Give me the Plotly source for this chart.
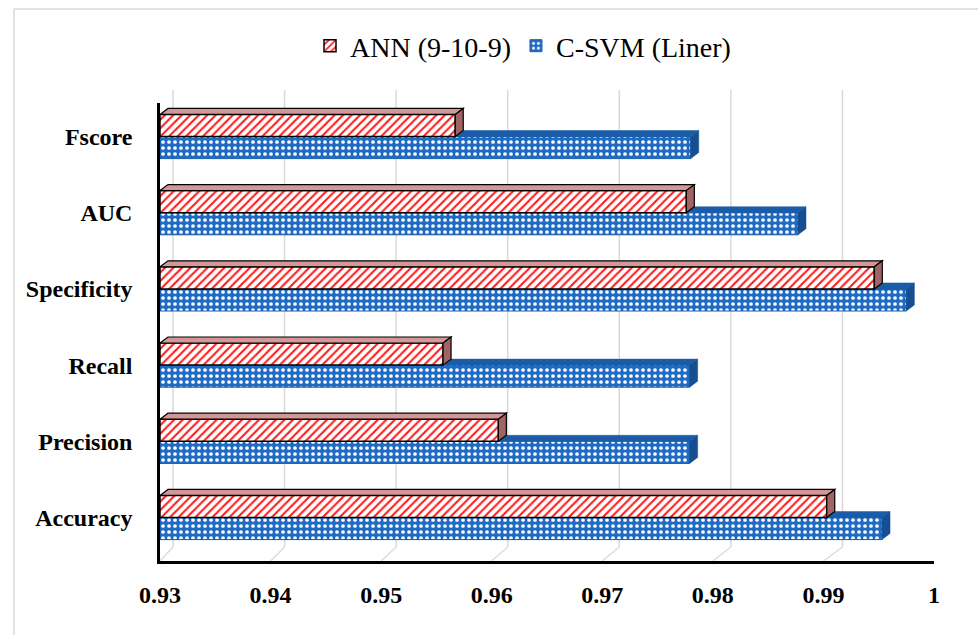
import plotly.graph_objects as go

categories = ["Accuracy", "Precision", "Recall", "Specificity", "AUC", "Fscore"]
ann_values = [0.9903, 0.9606, 0.9556, 0.9946, 0.9776, 0.9567]
svm_values = [0.9953, 0.9779, 0.9779, 0.9975, 0.9877, 0.9780]
x_ticks = [0.93, 0.94, 0.95, 0.96, 0.97, 0.98, 0.99, 1.0]
x_tick_labels = ["0.93", "0.94", "0.95", "0.96", "0.97", "0.98", "0.99", "1"]
series_names = ["ANN (9-10-9)", "C-SVM (Liner)"]

BASE = 0.93
BLUE = "#1F6BC3"
RED = "#FF1A1A"
SERIF = "Liberation Serif, Times New Roman, serif"
GRID = "#D9D9D9"

L, R, T, B = 160, 44, 103, 74
W, H = 978, 635
pw, ph = W - L - R, H - T - B
X_RANGE = [0.93, 1.0]
Y_RANGE = [-0.571, 5.44]
BARGAP = 0.42
ux = (X_RANGE[1] - X_RANGE[0]) / pw   # data units per pixel (x)

fig = go.Figure()

# SVM first so that it sits below ANN within each group
fig.add_trace(go.Bar(
    y=categories,
    x=[v - BASE for v in svm_values],
    base=BASE,
    orientation="h",
    name=series_names[1],
    marker=dict(
        color=BLUE,
        line=dict(color="#1A5BA8", width=1),
        pattern=dict(shape=".", fgcolor="white", bgcolor=BLUE,
                     size=6, solidity=0.3, fillmode="replace"),
    ),
    hoverinfo="x+y+name",
))
fig.add_trace(go.Bar(
    y=categories,
    x=[v - BASE for v in ann_values],
    base=BASE,
    orientation="h",
    name=series_names[0],
    marker=dict(
        color=RED,
        line=dict(color="black", width=1.5),
        pattern=dict(shape="/", fgcolor=RED, bgcolor="white",
                     size=6, solidity=0.35, fillmode="replace"),
    ),
    hoverinfo="x+y+name",
))

shapes = []

# back-wall gridlines and floor diagonals (3D look), derived from tick values
floor_h = 14 / ph
for t in x_ticks:
    shift = (13 + 7 * (t - X_RANGE[0]) / (X_RANGE[1] - X_RANGE[0])) * ux
    shapes.append(dict(type="line", xref="x", yref="paper", layer="below",
                       x0=t + shift, x1=t + shift, y0=floor_h, y1=1 + 13 / ph,
                       line=dict(color=GRID, width=1.5)))
    shapes.append(dict(type="line", xref="x", yref="paper", layer="below",
                       x0=t, x1=t + shift, y0=0, y1=floor_h,
                       line=dict(color=GRID, width=1.2)))

# pseudo-3D faces (top and right side) derived from the data values
dx = 8 * ux
dy = 6 * (Y_RANGE[1] - Y_RANGE[0]) / ph
half = (1 - BARGAP) / 2
for i, (a, s) in enumerate(zip(ann_values, svm_values)):
    yb, yt = i - half, i
    x_start = max(a, BASE)
    if s > a:
        shapes.append(dict(type="path", xref="x", yref="y", layer="above",
                           path=f"M{x_start},{yt} L{x_start+dx},{yt+dy} L{s+dx},{yt+dy} L{s},{yt} Z",
                           fillcolor="#1A5CA8", line=dict(color="#1A5CA8", width=0.5)))
    shapes.append(dict(type="path", xref="x", yref="y", layer="above",
                       path=f"M{s},{yb} L{s+dx},{yb+dy} L{s+dx},{yt+dy} L{s},{yt} Z",
                       fillcolor="#164F91", line=dict(color="#164F91", width=0.5)))
    yb, yt = i, i + half
    shapes.append(dict(type="path", xref="x", yref="y", layer="above",
                       path=f"M{BASE},{yt} L{BASE+dx},{yt+dy} L{a+dx},{yt+dy} L{a},{yt} Z",
                       fillcolor="#D49696", line=dict(color="black", width=1.2)))
    shapes.append(dict(type="path", xref="x", yref="y", layer="above",
                       path=f"M{a},{yb} L{a+dx},{yb+dy} L{a+dx},{yt+dy} L{a},{yt} Z",
                       fillcolor="#A06464", line=dict(color="black", width=1.2)))

# outer chart frame (light grey)
shapes += [
    dict(type="line", xref="paper", yref="paper",
         x0=(14 - L) / pw, x1=1 + R / pw + 0.01,
         y0=1 + (T - 9) / ph, y1=1 + (T - 9) / ph,
         line=dict(color=GRID, width=1.5)),
    dict(type="line", xref="paper", yref="paper",
         x0=(14 - L) / pw, x1=(14 - L) / pw,
         y0=1 + (T - 9) / ph, y1=-B / ph - 0.01,
         line=dict(color=GRID, width=1.5)),
]

fig.update_layout(
    width=W, height=H,
    margin=dict(l=L, r=R, t=T, b=B),
    paper_bgcolor="white",
    plot_bgcolor="rgba(0,0,0,0)",
    barmode="group",
    bargap=BARGAP,
    bargroupgap=0.0,
    font=dict(family=SERIF, color="black"),
    legend=dict(
        orientation="h",
        traceorder="reversed",
        x=(523 - L) / pw, xanchor="center",
        y=1 + (T - 46) / ph, yanchor="middle",
        font=dict(family=SERIF, size=28, color="black"),
        itemwidth=30,
        bgcolor="rgba(0,0,0,0)",
    ),
    xaxis=dict(
        range=X_RANGE,
        tickvals=x_ticks,
        ticktext=x_tick_labels,
        showgrid=False,
        showline=True,
        linecolor="black",
        linewidth=2.5,
        ticks="",
        zeroline=False,
        tickfont=dict(family=SERIF, size=24, color="black", weight="bold"),
        ticklabelstandoff=10,
    ),
    yaxis=dict(
        range=Y_RANGE,
        showgrid=False,
        showline=True,
        linecolor="black",
        linewidth=2.5,
        ticks="",
        zeroline=False,
        tickfont=dict(family=SERIF, size=24, color="black", weight="bold"),
        ticklabelstandoff=20,
    ),
    shapes=shapes,
)

fig.write_html("out.html")
